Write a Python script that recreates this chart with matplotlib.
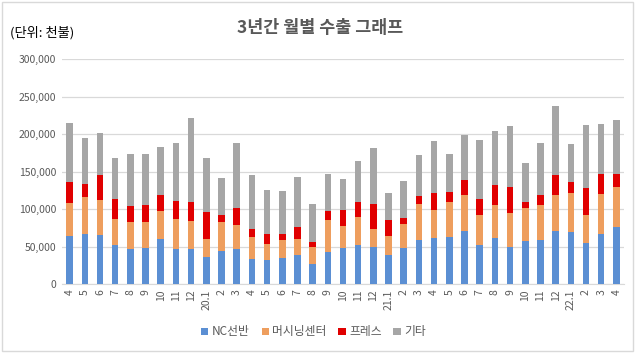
import matplotlib
matplotlib.use("Agg")
import matplotlib.pyplot as plt
from matplotlib.patches import Rectangle, Patch
import numpy as np

plt.rcParams['font.family'] = ['Noto Sans CJK KR', 'DejaVu Sans']

months = ["4", "5", "6", "7", "8", "9", "10", "11", "12",
          "20.1", "2", "3", "4", "5", "6", "7", "8", "9", "10", "11", "12",
          "21.1", "2", "3", "4", "5", "6", "7", "8", "9", "10", "11", "12",
          "22.1", "2", "3", "4"]

nc_lathe = [64400, 67000, 65700, 52400, 46200, 47500, 60400, 47000, 46200,
            36400, 44400, 46200, 33700, 31500, 34200, 39100, 27100, 42200, 47500, 52400, 49700,
            38200, 48400, 59000, 61700, 63000, 70100, 51500, 61700, 49700, 56800, 59000, 70100,
            69200, 55000, 67000, 75400]
machining = [43900, 48400, 45700, 34600, 35900, 34600, 36300, 39100, 37200,
             23100, 37700, 31900, 28400, 21300, 23900, 21300, 21700, 43500, 30200, 36400, 24000,
             26200, 31000, 47100, 37300, 45700, 48000, 39900, 43000, 44400, 43900, 45700, 48000,
             52400, 36400, 52400, 53300]
press = [27100, 17700, 33300, 25700, 21300, 22600, 21800, 24000, 25300,
         36400, 9300, 22600, 11600, 13300, 8500, 15000, 6700, 11900, 20400, 19900, 32800,
         21300, 8500, 10600, 23000, 14200, 20400, 21300, 26700, 35900, 8000, 13400, 27900,
         14600, 36000, 27900, 18600]
others = [79800, 62200, 57200, 55900, 70100, 68800, 64300, 78100, 113200,
          72700, 50600, 87500, 71900, 59500, 56800, 67900, 51500, 49300, 42100, 55900, 75500,
          35900, 49700, 55500, 69300, 50600, 60800, 79900, 73200, 80800, 52800, 70100, 91900,
          50600, 84700, 66200, 71500]

series = [("NC선반", nc_lathe, "#5B8FD3"),
          ("머시닝센터", machining, "#EE9E5E"),
          ("프레스", press, "#E00000"),
          ("기타", others, "#A6A6A6")]

fig = plt.figure(figsize=(6.4, 3.53), dpi=100)
ax = fig.add_axes([62/640, (353-284)/353, (624-62)/640, (284-59)/353])

x = np.arange(len(months))
bottom = np.zeros(len(months))
handles = []
for name, vals, col in series:
    v = np.array(vals, dtype=float)
    ax.bar(x, v, width=0.43, bottom=bottom, color=col, zorder=3, linewidth=0)
    bottom += v
    handles.append(Patch(facecolor=col, label=name))

ax.set_xlim(-0.5, len(months) - 0.5)
ax.set_ylim(0, 300000)
ax.set_yticks(np.arange(0, 300001, 50000))
ax.set_yticklabels([f"{int(t):,}" for t in np.arange(0, 300001, 50000)],
                   fontsize=7.5, color="#595959")
ax.set_xticks(x)
ax.set_xticklabels(months, rotation=90, fontsize=7.5, color="#595959",
                   ha="center", va="top")
ax.tick_params(axis="both", length=0, pad=4)
ax.grid(axis="y", color="#D9D9D9", linewidth=0.9, zorder=0)
for s in ["top", "right", "left"]:
    ax.spines[s].set_visible(False)
ax.spines["bottom"].set_color("#D9D9D9")

fig.text(0.5, 1 - 28/353, "3년간 월별 수출 그래프", ha="center", va="center",
         fontsize=12.5, fontweight="bold", color="#595959")
fig.text(10/640, 1 - 33/353, "(단위: 천불)", ha="left", va="center",
         fontsize=9.5, color="#000000")

fig.legend(handles=handles, loc="center", bbox_to_anchor=(0.49, 1 - 332/353),
           ncol=4, frameon=False, fontsize=8.5, handlelength=0.6, handleheight=0.6,
           handletextpad=0.3, columnspacing=1.0, labelcolor="#595959")

fig.patches.append(Rectangle((2/640, 2/353), 631/640, 349/353, transform=fig.transFigure,
                             fill=False, edgecolor="#D9D9D9", linewidth=1.0))

fig.savefig("out.png", dpi=100)
